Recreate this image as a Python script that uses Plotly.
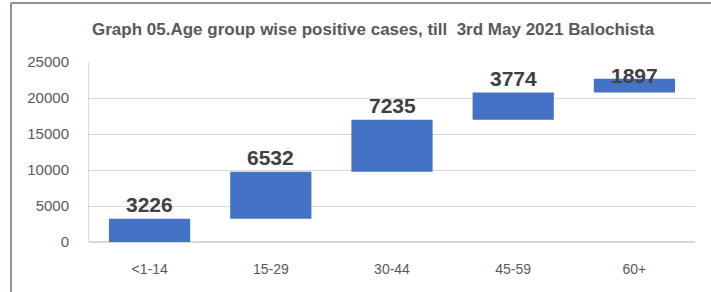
import plotly.graph_objects as go

categories = ["<1-14", "15-29", "30-44", "45-59", "60+"]
values = [3226, 6532, 7235, 3774, 1897]
label_shift = [14, 14, 14, 14, 3]

tops = []
bases = []
run = 0
for v in values:
    bases.append(run)
    run += v
    tops.append(run)

W, H = 711, 292
ml, mr, mt, mb = 89, 16, 62, 50
pw, ph = W - ml - mr, H - mt - mb

fig = go.Figure()
fig.add_trace(go.Bar(
    x=categories, y=values, base=bases,
    marker=dict(color="#4472C4", line=dict(width=0)),
    width=0.67,
    hoverinfo="skip",
))

for c, t, v, s in zip(categories, tops, values, label_shift):
    fig.add_annotation(x=c, y=t, text=f"<b>{v}</b>", showarrow=False,
                       yanchor="middle", yshift=s,
                       font=dict(family="Liberation Sans, Arial", size=21, color="#404040"))

def px_to_paper_x(px):
    return (px - ml) / pw

def px_to_paper_y(py):
    return (H - mb - py) / ph

# outer frame lines (left and top)
fig.add_shape(type="line", xref="paper", yref="paper",
              x0=px_to_paper_x(11), x1=px_to_paper_x(711),
              y0=px_to_paper_y(3), y1=px_to_paper_y(3),
              line=dict(color="#8a93a6", width=2))
fig.add_shape(type="line", xref="paper", yref="paper",
              x0=px_to_paper_x(11), x1=px_to_paper_x(11),
              y0=px_to_paper_y(3), y1=px_to_paper_y(292),
              line=dict(color="#8a93a6", width=2))

fig.add_annotation(xref="paper", yref="paper",
                   x=px_to_paper_x(373), y=px_to_paper_y(30),
                   text="<b>Graph 05.Age group wise positive cases, till  3rd May 2021 Balochista</b>",
                   showarrow=False, xanchor="center", yanchor="middle",
                   font=dict(family="Liberation Sans, Arial", size=17, color="#595959"))

fig.update_layout(
    width=W, height=H,
    margin=dict(l=ml, r=mr, t=mt, b=mb),
    paper_bgcolor="white", plot_bgcolor="white",
    showlegend=False,
    bargap=0.33,
    xaxis=dict(showgrid=False, showline=False, ticks="", automargin=False,
               tickfont=dict(family="Liberation Sans, Arial", size=14, color="#595959"),
               ticklabelstandoff=17),
    yaxis=dict(range=[0, 25000], dtick=5000, tickformat="d", automargin=False,
               showgrid=True, gridcolor="#d9d9d9",
               gridwidth=1, zeroline=True, zerolinecolor="#d9d9d9",
               showline=True, linecolor="#d9d9d9", linewidth=1,
               tickfont=dict(family="Liberation Sans, Arial", size=15, color="#595959"),
               ticklabelstandoff=16),
)

fig.write_html("out.html", config={"displayModeBar": False},
               post_script="document.body.style.margin='0';document.body.style.overflow='hidden';")
